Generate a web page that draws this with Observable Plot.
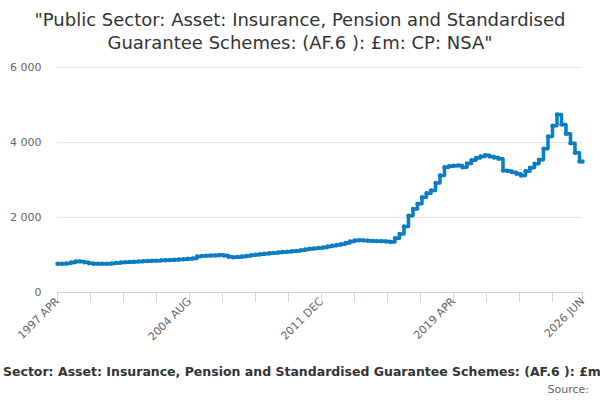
<!DOCTYPE html>
<html><head><meta charset="utf-8">
<script src="https://cdn.jsdelivr.net/npm/d3@7"></script>
<script src="https://cdn.jsdelivr.net/npm/@observablehq/plot@0.6"></script>
<style>
body{margin:0;background:#fff;font-family:"DejaVu Sans",sans-serif;width:600px;height:400px;overflow:hidden}
#title{padding-top:8px;text-align:center;font-size:18px;line-height:23px;color:#333;height:46px}
#chart{height:300px}
#caption{white-space:nowrap;overflow:hidden;width:600px;font-size:12.5px;font-weight:bold;color:#333;line-height:16px;margin-top:10px}
#source{text-align:right;padding-right:11px;font-size:11px;color:#666;line-height:14px;margin-top:3px}
</style></head><body>
<div id="title">"Public Sector: Asset: Insurance, Pension and Standardised<br>Guarantee Schemes: (AF.6 ): £m: CP: NSA"</div>
<div id="chart"></div>
<div id="caption"><span id="pre">Public </span><span>Sector: Asset: Insurance, Pension and Standardised Guarantee Schemes: (AF.6 ): £m: CP: NSA</span></div>
<div id="source">Source:</div>
<script>
// Quarterly values (£m), one per quarter starting 1997 APR, last quarter ends 2026 JUN
const firstMonth = "1997 APR";
const lastMonth = "2026 JUN";
const values = [
  765, 765, 775, 800, 825, 830, 805, 780, 765, 770, 770, 765,
  775, 790, 800, 810, 815, 820, 830, 835, 840, 845, 850, 858,
  862, 868, 872, 880, 890, 900, 905, 960, 975, 980, 985, 990,
  1000, 985, 955, 940, 950, 960, 975, 995, 1010, 1020, 1035, 1045,
  1055, 1065, 1080, 1090, 1100, 1110, 1130, 1150, 1165, 1175, 1190, 1200,
  1225, 1245, 1265, 1290, 1320, 1360, 1385, 1395, 1390, 1380, 1375, 1370,
  1370, 1360, 1345, 1450, 1560, 1760, 2050, 2230, 2370, 2540, 2650, 2720,
  2920, 3120, 3340, 3370, 3380, 3390, 3340, 3440, 3530, 3590, 3630, 3660,
  3630, 3600, 3570, 3253, 3240, 3210, 3170, 3120, 3235, 3325, 3432, 3539,
  3832, 4160, 4445, 4747, 4480, 4232, 3981, 3725, 3493
];
const tickLabels = ["1997 APR", "2004 AUG", "2011 DEC", "2019 APR", "2026 JUN"];
const yTicks = [0, 2000, 4000, 6000];
const monthNames = ["JAN","FEB","MAR","APR","MAY","JUN","JUL","AUG","SEP","OCT","NOV","DEC"];

const toIndex = s => { const [y, mo] = s.split(" "); return +y * 12 + monthNames.indexOf(mo); };
const base = toIndex(firstMonth);
const endIdx = toIndex(lastMonth) - base;
const labelOf = i => { const t = base + Math.round(i); return Math.floor(t / 12) + " " + monthNames[t % 12]; };

const data = values.map((v, i) => ({m: i * 3, v}));
data.push({m: endIdx, v: values[values.length - 1]});
const labelTicks = tickLabels.map(s => toIndex(s) - base);
const minorTicks = d3.range(0, endIdx, 22).concat([endIdx]);
const yFmt = d => d3.format(",")(d).replace(/,/g, " ");
const blue = "#0a7cc4";

const chart = Plot.plot({
  width: 600, height: 300,
  marginTop: 13, marginBottom: 62, marginLeft: 57, marginRight: 18,
  style: {fontFamily: "DejaVu Sans", fontSize: "11px", color: "#666", background: "#fff"},
  x: {domain: [0, endIdx]},
  y: {domain: [0, 6000]},
  marks: [
    Plot.gridY(yTicks.slice(1), {stroke: "#e6e6e6", strokeOpacity: 1}),
    Plot.axisY(yTicks, {tickSize: 0, tickPadding: 16, tickFormat: yFmt, fill: "#666", label: null}),
    Plot.ruleY([0], {stroke: "#ccd6eb"}),
    Plot.axisX(minorTicks, {tickSize: 10, tickFormat: () => "", stroke: "#ccd6eb", strokeOpacity: 1, label: null}),
    Plot.axisX(labelTicks, {tickSize: 0, tickRotate: -45, tickPadding: 7, tickFormat: labelOf, fill: "#666", label: null}),
    Plot.line(data, {x: "m", y: "v", curve: "step-after", stroke: blue, strokeWidth: 3.5}),
    Plot.dot(data, {x: "m", y: "v", r: 2.2, fill: blue, stroke: null})
  ]
});
document.getElementById("chart").appendChild(chart);
const pre = document.getElementById("pre");
document.getElementById("caption").style.textIndent = (3 - pre.getBoundingClientRect().width) + "px";
</script>
</body></html>
